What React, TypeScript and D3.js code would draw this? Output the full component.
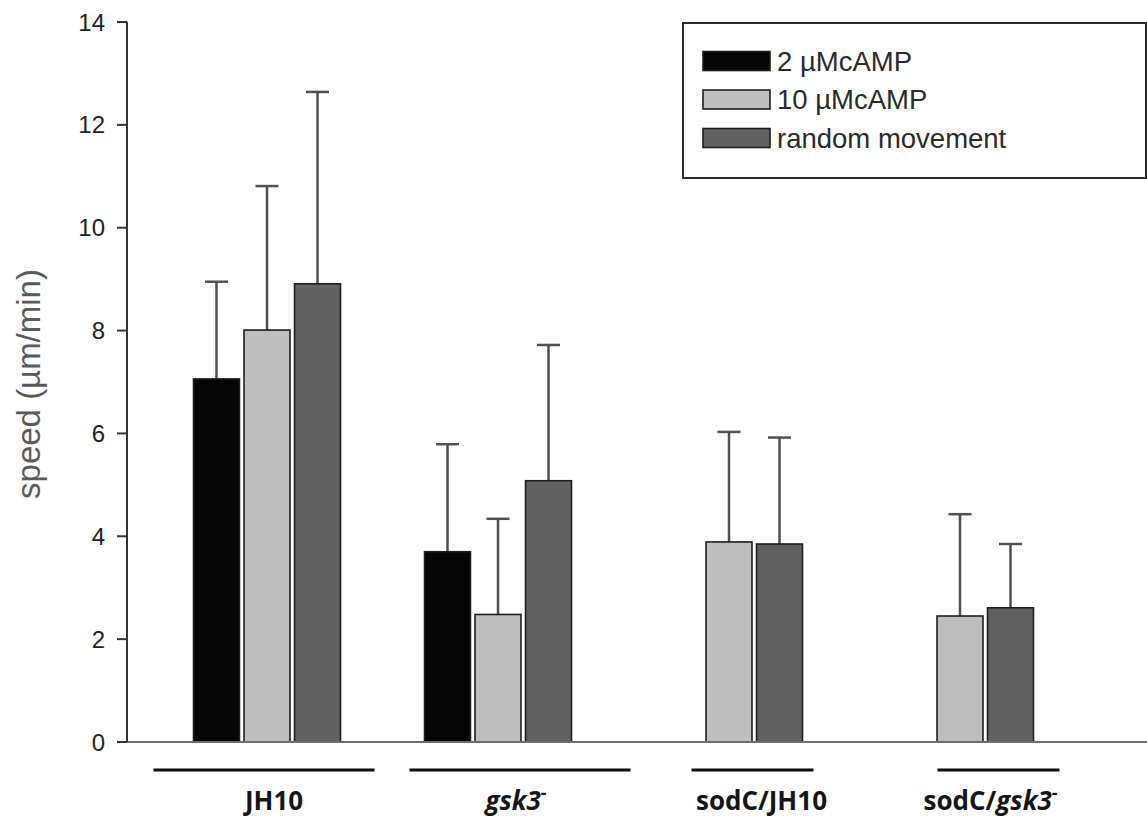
import React from "react";
import * as d3 from "d3";

// ---- data ----
const categories = ["JH10", "gsk3", "sodC/JH10", "sodC/gsk3"];
const seriesNames = ["2 µMcAMP", "10 µMcAMP", "random movement"];
const values2uM: (number | null)[] = [7.06, 3.7, null, null];
const values10uM: (number | null)[] = [8.01, 2.48, 3.89, 2.45];
const valuesRandom: (number | null)[] = [8.91, 5.08, 3.85, 2.61];
const err2uM: (number | null)[] = [1.89, 2.09, null, null];
const err10uM: (number | null)[] = [2.8, 1.86, 2.14, 1.98];
const errRandom: (number | null)[] = [3.73, 2.64, 2.07, 1.24];
const yTicks = [0, 2, 4, 6, 8, 10, 12, 14];
const yLabel = "speed (µm/min)";
// label parts: [text, italic, superscript]
const groupLabels: [string, boolean, boolean][][] = [
  [["JH10", false, false]],
  [["gsk3", true, false], ["-", false, true]],
  [["sodC/JH10", false, false]],
  [["sodC/", false, false], ["gsk3", true, false], ["-", false, true]],
];

const seriesValues = [values2uM, values10uM, valuesRandom];
const seriesErrors = [err2uM, err10uM, errRandom];
const seriesFill = ["#050505", "#bebebe", "#616161"];

// ---- layout ----
const W = 1147;
const H = 820;
const axisX = 127;
const yTop = 22;
const yBottom = 742;
const lineShift = [-1.5, 23.5, 25, 40];
const labelShift = [10, -4, 9, -8];

export default function App() {
  const y = d3.scaleLinear().domain([0, 14]).range([yBottom, yTop]);
  const xGroup = d3.scaleBand<string>().domain(categories).range([150, 1074]).padding(0);
  const xInner = d3
    .scaleBand<string>()
    .domain(seriesNames)
    .range([-72, 75])
    .paddingInner(0.09)
    .paddingOuter(0);
  const bw = xInner.bandwidth();
  const gc = (c: string) => (xGroup(c) as number) + xGroup.bandwidth() / 2;

  const bars: any[] = [];
  seriesNames.forEach((s, si) => {
    categories.forEach((c, ci) => {
      const v = seriesValues[si][ci];
      if (v == null) return;
      const x0 = gc(c) + (xInner(s) as number);
      bars.push({ si, ci, x0, v, e: seriesErrors[si][ci] });
    });
  });

  const font = "Arial, 'Liberation Sans', sans-serif";

  return (
    <svg
      width={W}
      height={H}
      style={{ position: "absolute", left: 0, top: 0, background: "#fff" }}
    >
      <rect x={0} y={0} width={W} height={H} fill="#fff" />
      {/* error bars (drawn first, stems hidden behind bars) */}
      {bars.map((b, i) => {
        if (b.e == null) return null;
        const cx = b.x0 + bw / 2;
        const top = y(b.v + b.e);
        return (
          <g key={"e" + i} stroke="#505050" strokeWidth={2.5}>
            <line x1={cx} x2={cx} y1={y(b.v)} y2={top} />
            <line x1={cx - 11.5} x2={cx + 11.5} y1={top} y2={top} />
          </g>
        );
      })}
      {bars.map((b, i) => (
        <rect
          key={"b" + i}
          x={b.x0}
          y={y(b.v)}
          width={bw}
          height={y(0) - y(b.v)}
          fill={seriesFill[b.si]}
          stroke="#1e1e1e"
          strokeWidth={1.6}
        />
      ))}
      {/* x axis */}
      <line x1={axisX} x2={W} y1={yBottom} y2={yBottom} stroke="#6e6e6e" strokeWidth={2} />
      {/* y axis */}
      <line x1={axisX} x2={axisX} y1={yTop} y2={yBottom} stroke="#333" strokeWidth={2} />
      {yTicks.map((t) => (
        <g key={"t" + t}>
          <line x1={axisX - 10} x2={axisX} y1={y(t)} y2={y(t)} stroke="#333" strokeWidth={2} />
          <text
            x={axisX - 22}
            y={y(t)}
            dy="0.36em"
            textAnchor="end"
            fontFamily={font}
            fontSize={24}
            fill="#222"
          >
            {t}
          </text>
        </g>
      ))}
      <text
        transform={`translate(40, ${(yTop + yBottom) / 2 + 2}) rotate(-90)`}
        textAnchor="middle"
        fontFamily={font}
        fontSize={33}
        fill="#5a5a5a"
      >
        {yLabel}
      </text>
      {/* group underlines and labels */}
      {categories.map((c, ci) => {
        const n = seriesValues.filter((sv) => sv[ci] != null).length;
        const half = 49.5 * n - 38;
        const cx = gc(c) + lineShift[ci];
        return (
          <g key={"g" + ci}>
            <line x1={cx - half} x2={cx + half} y1={770} y2={770} stroke="#111" strokeWidth={3} />
            <text
              x={cx + labelShift[ci]}
              y={810}
              textAnchor="middle"
              fontFamily="'Open Sans', sans-serif"
              fontWeight="bold"
              fontSize={26}
              fill="#151515"
            >
              {groupLabels[ci].map(([t, it, sup], k) => (
                <tspan
                  key={k}
                  fontStyle={it ? "italic" : "normal"}
                  dy={sup ? -11 : 0}
                  fontSize={sup ? 18 : 26}
                >
                  {t}
                </tspan>
              ))}
            </text>
          </g>
        );
      })}
      {/* legend */}
      <rect x={683} y={23} width={463} height={155} fill="#fff" stroke="#2a2a2a" strokeWidth={2} />
      {seriesNames.map((s, si) => {
        const cy = 61 + si * 38.5;
        return (
          <g key={"l" + si}>
            <rect x={703} y={cy - 9.5} width={67} height={19} fill={seriesFill[si]} stroke="#1e1e1e" strokeWidth={1.6} />
            <text x={777} y={cy} dy="0.35em" fontFamily={font} fontSize={27.5} fill="#2a2a2a">
              {s}
            </text>
          </g>
        );
      })}
    </svg>
  );
}
